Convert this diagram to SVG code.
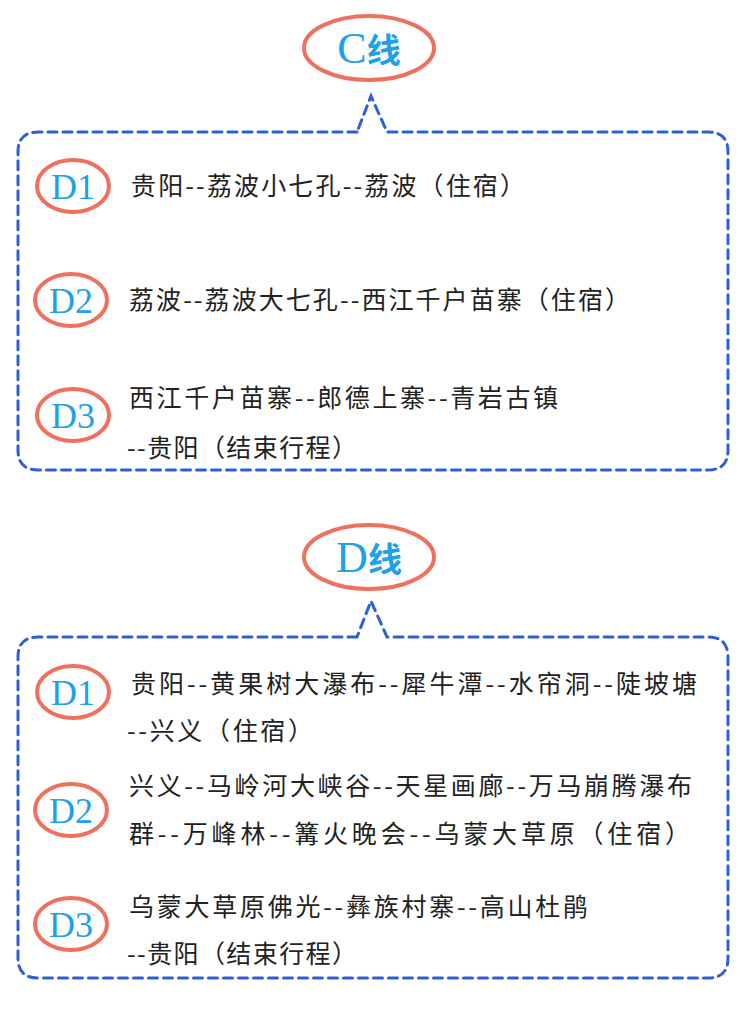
<svg xmlns="http://www.w3.org/2000/svg" width="750" height="1033" viewBox="0 0 750 1033">
<style>
.box{fill:none;stroke:#2f5fd8;stroke-width:3;stroke-dasharray:9 6;stroke-linecap:round}
.ring{fill:#fff;stroke:#f0705e;stroke-width:4}
.lab{font-family:"Liberation Serif",serif;fill:#1ea0ea;font-size:36px;text-anchor:middle}
.big{font-family:"Liberation Serif","Noto Sans CJK SC",serif;fill:#1ea0ea;font-size:44px;text-anchor:middle}
.t{font-family:"Noto Sans CJK SC",sans-serif;fill:#222;font-size:25px}
</style>
<rect width="750" height="1033" fill="#fff"/>
<g id="connectors">
<path class="box" d="M357,132 H38 Q18,132 18,152 V450 Q18,470 38,470 H708 Q728,470 728,450 V152 Q728,132 708,132 H387 L371,96 Z"/>
<path class="box" d="M357,637 H38 Q18,637 18,657 V958 Q18,978 38,978 H708 Q728,978 728,958 V657 Q728,637 708,637 H387 L371,601 Z"/>
</g>
<g id="titleC"><ellipse class="ring" cx="369" cy="48" rx="65" ry="32"/><text class="big" x="369" y="63">C<tspan font-family="Noto Sans CJK SC,sans-serif" font-size="34" font-weight="bold">线</tspan></text></g>
<g id="titleD"><ellipse class="ring" cx="369" cy="557" rx="65" ry="32"/><text class="big" x="369" y="572">D<tspan font-family="Noto Sans CJK SC,sans-serif" font-size="34" font-weight="bold">线</tspan></text></g>
<g id="c1"><ellipse class="ring" cx="73" cy="186" rx="36" ry="26"/><text class="lab" x="73" y="199">D1</text><text class="t" x="131" y="195" textLength="394" lengthAdjust="spacing">贵阳--荔波小七孔--荔波（住宿）</text></g>
<g id="c2"><ellipse class="ring" cx="71" cy="300" rx="36" ry="26"/><text class="lab" x="71" y="313">D2</text><text class="t" x="129" y="309" textLength="501" lengthAdjust="spacing">荔波--荔波大七孔--西江千户苗寨（住宿）</text></g>
<g id="c3"><ellipse class="ring" cx="73" cy="415" rx="36" ry="26"/><text class="lab" x="73" y="428">D3</text><text class="t" x="129" y="407" textLength="429" lengthAdjust="spacing">西江千户苗寨--郎德上寨--青岩古镇</text><text class="t" x="127" y="457" textLength="230" lengthAdjust="spacing">--贵阳（结束行程）</text></g>
<g id="d1"><ellipse class="ring" cx="73" cy="692" rx="36" ry="26"/><text class="lab" x="73" y="705">D1</text><text class="t" x="131" y="693" textLength="566" lengthAdjust="spacing">贵阳--黄果树大瀑布--犀牛潭--水帘洞--陡坡塘</text><text class="t" x="127" y="740" textLength="186" lengthAdjust="spacing">--兴义（住宿）</text></g>
<g id="d2"><ellipse class="ring" cx="71" cy="810" rx="36" ry="26"/><text class="lab" x="71" y="823">D2</text><text class="t" x="129" y="795" textLength="563" lengthAdjust="spacing">兴义--马岭河大峡谷--天星画廊--万马崩腾瀑布</text><text class="t" x="129" y="843" textLength="561" lengthAdjust="spacing">群--万峰林--篝火晚会--乌蒙大草原（住宿）</text></g>
<g id="d3"><ellipse class="ring" cx="71" cy="924" rx="36" ry="26"/><text class="lab" x="71" y="937">D3</text><text class="t" x="129" y="916" textLength="459" lengthAdjust="spacing">乌蒙大草原佛光--彝族村寨--高山杜鹃</text><text class="t" x="127" y="963" textLength="230" lengthAdjust="spacing">--贵阳（结束行程）</text></g>
</svg>
